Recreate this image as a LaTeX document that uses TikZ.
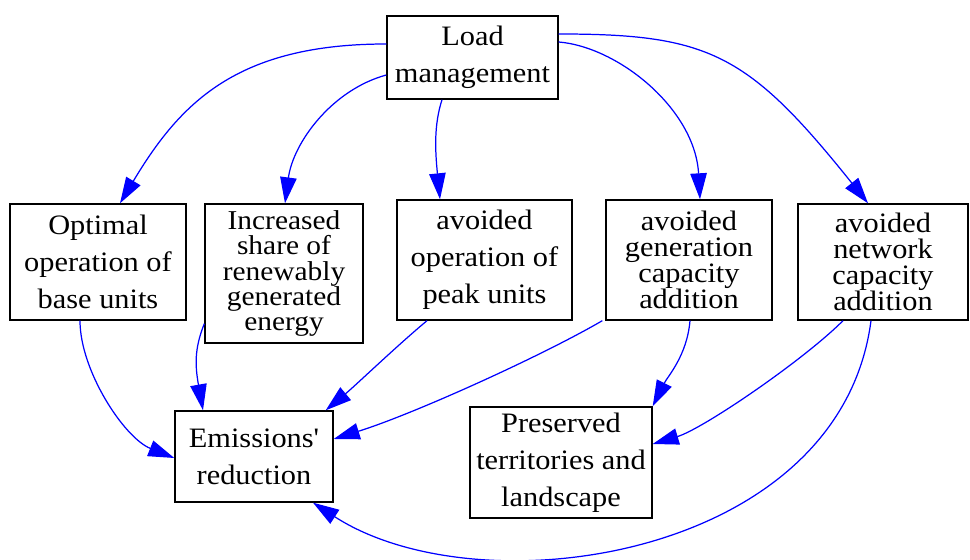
\documentclass[tikz,border=0pt]{standalone}
\usepackage{fontspec}
\setmainfont{Liberation Serif}[FakeStretch=1.08]
\usetikzlibrary{arrows.meta,calc}
\tikzset{
  box/.style={draw=black, line width=0.8pt, rectangle, inner sep=0pt, align=center, fill=white},
  loose/.style={font=\fontsize{16}{21}\selectfont},
  tight/.style={font=\fontsize{15.5}{14.5}\selectfont},
  mid/.style={font=\fontsize{16}{14.7}\selectfont},
  edge/.style={draw={rgb,255:red,0;green,0;blue,255}, line width=0.7pt,
    -{Triangle[length=0.52cm,width=0.33cm]}},
}
\begin{document}
\begin{tikzpicture}[x=0.02cm,y=-0.02cm]
\useasboundingbox (0,0) rectangle (970,560);
\node[box,loose,minimum width=3.42cm,minimum height=1.66cm] (LM) at (472.5,57.5) {Load\\management};
\node[box,loose,minimum width=3.52cm,minimum height=2.32cm] (Opt) at (98,262) {Optimal\\operation of\\base units};
\node[box,tight,minimum width=3.16cm,minimum height=2.78cm] (Inc) at (284,273.5) {Increased\\share of\\renewably\\generated\\energy};
\node[box,loose,minimum width=3.5cm,minimum height=2.4cm] (Peak) at (484.5,260) {avoided\\operation of\\peak units};
\node[box,mid,minimum width=3.32cm,minimum height=2.4cm] (Gen) at (689,260) {avoided\\generation\\capacity\\addition};
\node[box,mid,minimum width=3.4cm,minimum height=2.32cm] (Net) at (883,262) {avoided\\network\\capacity\\addition};
\node[box,loose,minimum width=3.16cm,minimum height=1.82cm] (Emi) at (254,456.5) {Emissions{\addfontfeatures{Ligatures=TeXOff}'}\\reduction};
\node[box,loose,minimum width=3.64cm,minimum height=2.22cm] (Pres) at (561,462.5) {Preserved\\territories and\\landscape};

\draw[edge] ($(LM.west)+(0,-13.5)$) .. controls +(-150,0) and +(60,-100) .. ($(Opt.north)+(22,0)$);
\draw[edge] ($(LM.west)+(0,17.5)$) .. controls +(-55,15) and +(8,-60) .. ($(Inc.north)+(1,0)$);
\draw[edge] ($(LM.south)+(-30.5,0)$) .. controls +(-8,25) and +(-5,-50) .. ($(Peak.north)+(-44.5,0)$);
\draw[edge] ($(LM.east)+(0,-15.5)$) .. controls +(60,5) and +(-5,-90) .. ($(Gen.north)+(11,0)$);
\draw[edge] ($(LM.east)+(0,-23.5)$) .. controls +(150,0) and +(-120,-150) .. ($(Net.north)+(-15,0)$);

\draw[edge] ($(Opt.south)+(-18,0)$) .. controls +(0,50) and +(-50,-20) .. ($(Emi.west)+(0,1.5)$);
\draw[edge] ($(Inc.south west)+(0,-20)$) .. controls +(-10,25) and +(-8,-45) .. ($(Emi.north)+(-51,0)$);
\draw[edge] ($(Peak.south)+(-57.5,0)$) .. controls +(-30,25) and +(30,-25) .. ($(Emi.north east)+(-8,0)$);
\draw[edge] ($(Gen.south west)+(-3,0)$) .. controls +(-60,35) and +(80,-25) .. ($(Emi.east)+(0,-17.5)$);
\draw[edge] ($(Gen.south)+(1,0)$) .. controls +(-3,35) and +(15,-30) .. (Pres.north east);
\draw[edge] ($(Net.south)+(-40,0)$) .. controls +(-40,40) and +(50,-15) .. ($(Pres.east)+(0,-18.5)$);
\draw[edge] ($(Net.south)+(-12,0)$) .. controls +(-31,238) and +(167,108) .. ($(Emi.south)+(59,0)$);
\end{tikzpicture}
\end{document}
